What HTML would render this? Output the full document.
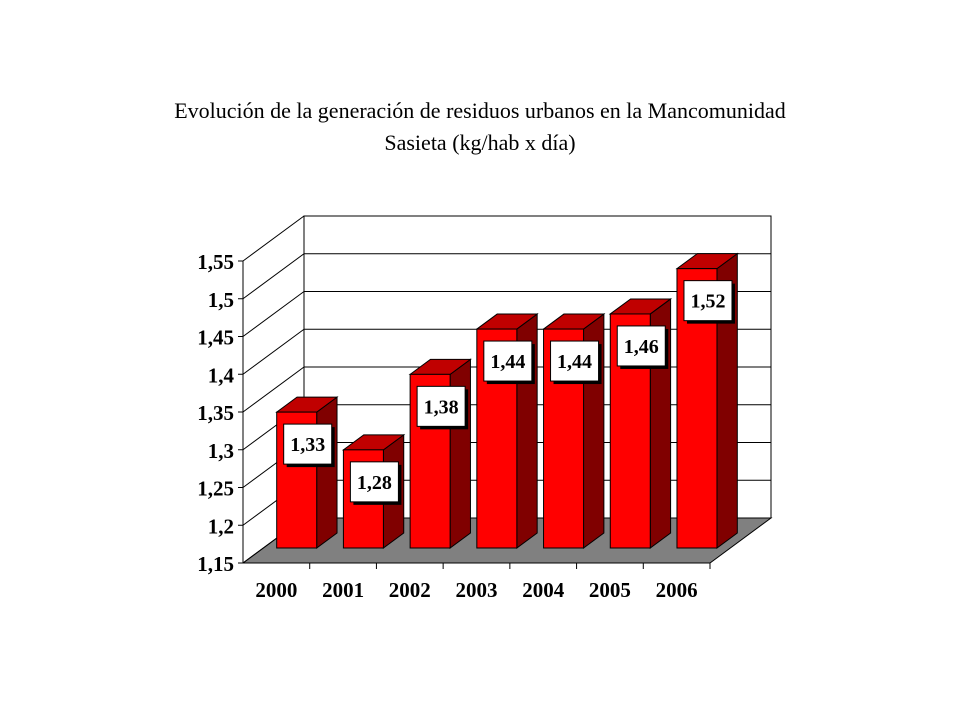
<!DOCTYPE html>
<html><head><meta charset="utf-8"><style>
body{margin:0;background:#fff;}
svg text{font-family:"Liberation Serif",serif;}
</style></head><body>
<svg id="chart" width="960" height="720" viewBox="0 0 960 720">
<text x="480" y="118" text-anchor="middle" font-size="22">Evolución de la generación de residuos urbanos en la Mancomunidad</text>
<text x="480" y="150" text-anchor="middle" font-size="22">Sasieta (kg/hab x día)</text>
<g id="walls"></g><g id="bars"></g><g id="axes"></g>
</svg>
<script>
const categories=["2000","2001","2002","2003","2004","2005","2006"];
const values=[1.33,1.28,1.38,1.44,1.44,1.46,1.52];
const valueLabels=["1,33","1,28","1,38","1,44","1,44","1,46","1,52"];
const yTicks=[1.15,1.2,1.25,1.3,1.35,1.4,1.45,1.5,1.55];
const yTickLabels=["1,15","1,2","1,25","1,3","1,35","1,4","1,45","1,5","1,55"];
const NS="http://www.w3.org/2000/svg";
const X0=243,X1=710,Y0=563,YMIN=1.15,YMAX=1.55,PXV=302/0.40,DX=61,DY=-45;
function y(v,d){return Y0-(v-YMIN)*PXV+DY*d;}
function xc(i,d){return X0+(X1-X0)/categories.length*(i+0.5)+DX*d;}
function mk(p,tag,a){const e=document.createElementNS(NS,tag);for(const k in a)e.setAttribute(k,a[k]);p.appendChild(e);return e;}
const walls=document.getElementById('walls'),bars=document.getElementById('bars'),axes=document.getElementById('axes');
let f=mk(walls,'polygon',{points:`${X0},${Y0} ${X1},${Y0} ${X1+DX},${Y0+DY} ${X0+DX},${Y0+DY}`,fill:'#808080',stroke:'#000','stroke-width':1});

let bw=mk(walls,'rect',{x:X0+DX,y:y(YMAX,1),width:X1-X0,height:Y0-y(YMAX,0),fill:'none',stroke:'#000','stroke-width':1});

yTicks.forEach((t,i)=>{
  const g=mk(walls,'line',{x1:X0+DX,x2:X1+DX,y1:y(t,1),y2:y(t,1),stroke:'#000','stroke-width':1});
  
  const d=mk(walls,'line',{x1:X0,x2:X0+DX,y1:y(t,0),y2:y(t,1),stroke:'#000','stroke-width':1});
  
  const tk=mk(axes,'line',{x1:X0-5,x2:X0,y1:y(t,0),y2:y(t,0),stroke:'#000'});
  
  const tl=mk(axes,'text',{x:234,y:y(t,0)+8,'text-anchor':'end','font-size':21,'font-weight':'bold'});
  tl.textContent=yTickLabels[i];
  
});
mk(axes,'line',{x1:X0,x2:X0,y1:y(YMAX,0),y2:Y0,stroke:'#000'});
mk(axes,'line',{x1:X0,x2:X1,y1:Y0,y2:Y0,stroke:'#000'});
const cw=(X1-X0)/categories.length,BW=40,D0=1/3,D1=2/3;
categories.forEach((c,i)=>{
  const bx=xc(i,D0)-BW/2,by=y(values[i],D0),bb=y(YMIN,D0);
  const g=mk(bars,'g',{});
  
  const ox=DX*(D1-D0),oy=DY*(D1-D0);
  mk(g,'polygon',{points:`${bx+BW},${by} ${bx+BW+ox},${by+oy} ${bx+BW+ox},${bb+oy} ${bx+BW},${bb}`,fill:'#800000',stroke:'#000','stroke-width':1});
  mk(g,'polygon',{points:`${bx},${by} ${bx+ox},${by+oy} ${bx+BW+ox},${by+oy} ${bx+BW},${by}`,fill:'#c00000',stroke:'#000','stroke-width':1});
  mk(g,'rect',{x:bx,y:by,width:BW,height:bb-by,fill:'#ff0000',stroke:'#000','stroke-width':1});
  const lx=xc(i,D0)+11,ly=by+32;
  const lg=mk(bars,'g',{});
  
  mk(lg,'rect',{x:lx-24+3,y:ly-20+3,width:48,height:40,fill:'#000'});
  mk(lg,'rect',{x:lx-24,y:ly-20,width:48,height:40,fill:'#fff',stroke:'#000','stroke-width':1});
  const t=mk(lg,'text',{x:lx,y:ly+7,'text-anchor':'middle','font-size':20,'font-weight':'bold'});t.textContent=valueLabels[i];
  const tk=mk(axes,'line',{x1:X0+cw*(i+1),x2:X0+cw*(i+1),y1:Y0,y2:Y0+6,stroke:'#000'});
  
  const xl=mk(axes,'text',{x:xc(i,0),y:597,'text-anchor':'middle','font-size':21,'font-weight':'bold'});
  xl.textContent=c;
  
});
</script>
</body></html>
